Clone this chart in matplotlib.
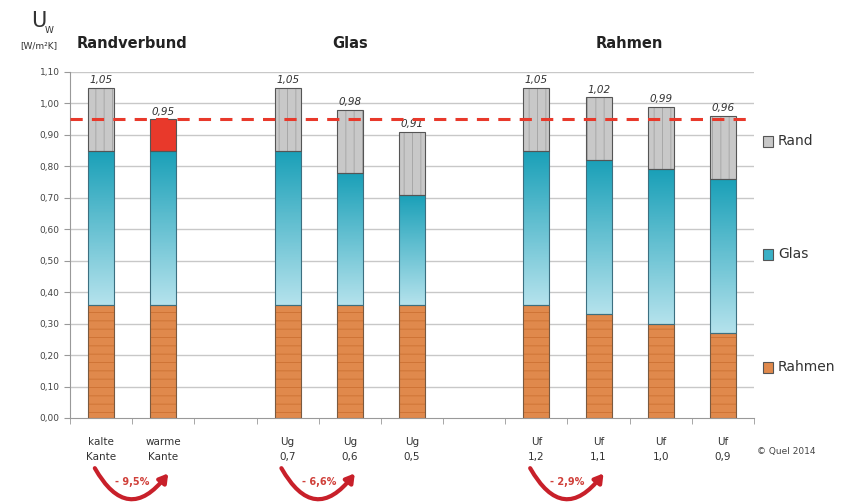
import numpy as np
import matplotlib.pyplot as plt
from matplotlib.patches import Rectangle
from matplotlib.colors import LinearSegmentedColormap

# data
slots = [0, 1, 3, 4, 5, 7, 8, 9, 10]
xlabels = ["kalte\nKante", "warme\nKante", "Ug\n0,7", "Ug\n0,6", "Ug\n0,5",
           "Uf\n1,2", "Uf\n1,1", "Uf\n1,0", "Uf\n0,9"]
rahmen = [0.36, 0.36, 0.36, 0.36, 0.36, 0.36, 0.33, 0.30, 0.27]
glas = [0.49, 0.49, 0.49, 0.42, 0.35, 0.49, 0.49, 0.49, 0.49]
rand = [0.20, 0.10, 0.20, 0.20, 0.20, 0.20, 0.20, 0.20, 0.20]
totals = ["1,05", "0,95", "1,05", "0,98", "0,91", "1,05", "1,02", "0,99", "0,96"]
groups = [("Randverbund", 0.5), ("Glas", 4), ("Rahmen", 8.5)]
savings = [("- 9,5%", 0), ("- 6,6%", 3), ("- 2,9%", 7)]
limit = 0.95

c_rahmen = "#e0894c"
c_rand = "#c8c8c8"
c_warm = "#e8392b"
w = 0.42

plt.rcParams['hatch.linewidth'] = 0.7

fig = plt.figure(figsize=(8.53, 5.03), dpi=100)
ax = fig.add_axes([0.082, 0.169, 0.802, 0.688])
ax.set_xlim(-0.5, 10.5)
ax.set_ylim(0, 1.10)

yt = np.round(np.arange(0, 1.11, 0.1), 2)
for v in yt[1:]:
    ax.axhline(v, color="#c8c8c8", lw=1, zorder=0)

# gradient for glass
grad = np.linspace(0, 1, 100).reshape(-1, 1)
cmap = LinearSegmentedColormap.from_list("g", ["#b4e2ec", "#1aa0b8"])

for i, x in enumerate(slots):
    # rahmen
    ax.bar(x, rahmen[i], w, color=c_rahmen, edgecolor="#cf7436", hatch="--",
           linewidth=0, zorder=2)
    ax.bar(x, rahmen[i], w, fill=False, edgecolor="#7a5a40", linewidth=0.8, zorder=3)
    # glas
    b = ax.bar(x, glas[i], w, bottom=rahmen[i], color="#5cc0d2", linewidth=0, zorder=2)[0]
    im = ax.imshow(grad, extent=[x - w / 2, x + w / 2, rahmen[i], rahmen[i] + glas[i]],
                   origin="lower", cmap=cmap, aspect="auto", zorder=2.5)
    im.set_clip_path(b)
    ax.bar(x, glas[i], w, bottom=rahmen[i], fill=False, edgecolor="#3c6f80",
           linewidth=0.8, zorder=3)
    # rand
    top = rahmen[i] + glas[i]
    if i == 1:
        ax.bar(x, rand[i], w, bottom=top, color=c_warm, linewidth=0, zorder=2)
    else:
        ax.bar(x, rand[i], w, bottom=top, color=c_rand, edgecolor="#a8a8a8",
               hatch="||", linewidth=0, zorder=2)
    ax.bar(x, rand[i], w, bottom=top, fill=False, edgecolor="#555555",
           linewidth=0.8, zorder=3)
    ax.text(x, top + rand[i] + 0.008, totals[i], ha="center", va="bottom",
            fontsize=7.5, style="italic", color="#333333")

ax.axhline(limit, color="#e8392b", lw=2.2, ls=(0, (4, 3)), zorder=4)

ax.set_yticks(yt)
ax.set_yticklabels([f"{v:.2f}".replace(".", ",") for v in yt], fontsize=6.5,
                   color="#444444")
ax.set_xticks(slots)
ax.set_xticklabels(xlabels, fontsize=7.5, color="#333333", linespacing=1.6)
ax.set_xticks(np.arange(-0.5, 10.6, 1), minor=True)
ax.tick_params(axis="x", which="major", length=0, pad=14)
ax.tick_params(axis="x", which="minor", length=4, color="#999999")
ax.tick_params(axis="y", length=4, color="#999999")
for s in ["top", "right"]:
    ax.spines[s].set_visible(False)
for s in ["left", "bottom"]:
    ax.spines[s].set_color("#999999")

for name, xc in groups:
    ax.text(xc, 1.165, name, ha="center", va="bottom", fontsize=10.5,
            fontweight="bold", color="#222222")

fig.text(0.045, 0.958, "U", fontsize=15, ha="center", va="center", color="#333333")
fig.text(0.058, 0.940, "W", fontsize=6.5, ha="center", va="center", color="#333333")
fig.text(0.045, 0.910, "[W/m²K]", fontsize=6.5, ha="center", va="center", color="#333333")

# legend
for name, yc, col in [("Rand", 0.72, c_rand), ("Glas", 0.495, "#3ab0c6"),
                      ("Rahmen", 0.27, c_rahmen)]:
    fig.patches.append(Rectangle((0.894, yc - 0.012), 0.012, 0.022, transform=fig.transFigure,
                                 facecolor=col, edgecolor="#555555", lw=0.8))
    fig.text(0.912, yc, name, fontsize=10, va="center", color="#333333")

fig.text(0.887, 0.098, "© Quel 2014", fontsize=6.5, color="#444444")

tr = ax.get_xaxis_transform()
for txt, x0 in savings:
    ax.annotate("", xy=(x0 + 1.08, -0.16), xytext=(x0 - 0.1, -0.145), xycoords=tr,
                textcoords=tr,
                arrowprops=dict(arrowstyle="-|>,head_length=0.5,head_width=0.3",
                                color="#c8202a", lw=3, connectionstyle="arc3,rad=0.75",
                                shrinkA=0, shrinkB=0),
                annotation_clip=False)
    ax.text(x0 + 0.5, -0.185, txt, transform=tr, ha="center", va="center",
            fontsize=7, color="#d0403a", fontweight="bold")

fig.savefig("out.png")
